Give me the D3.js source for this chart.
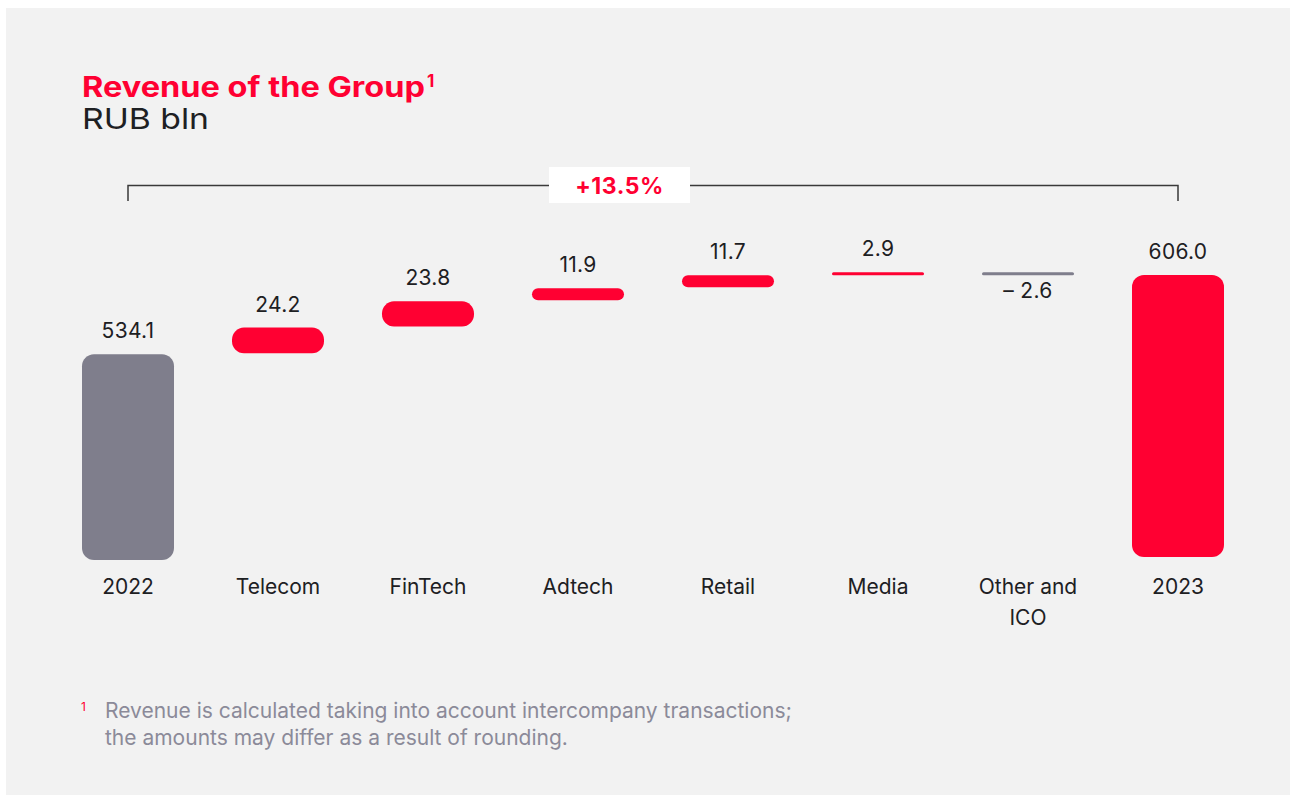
<!DOCTYPE html>
<html>
<head>
<meta charset="utf-8">
<script src="https://cdn.jsdelivr.net/npm/d3@7"></script>
<style>
  html, body { margin: 0; padding: 0; background: #ffffff; }
  svg { display: block; }
  text { font-family: Inter, "Noto Sans", sans-serif; }
</style>
</head>
<body>
<div id="chart"></div>
<script>
// chart data
const categories = ["2022", "Telecom", "FinTech", "Adtech", "Retail", "Media", "Other and\nICO", "2023"];
const values = [534.1, 24.2, 23.8, 11.9, 11.7, 2.9, -2.6, 606.0];
const kinds = ["total", "delta", "delta", "delta", "delta", "delta", "delta", "total"];
const growthLabel = "+13.5%";
const titleText = "Revenue of the Group";
const unitText = "RUB bln";
const footnoteLines = [
    "Revenue is calculated taking into account intercompany transactions;",
    "the amounts may differ as a result of rounding."
];

const RED = "#ff0032";
const GRAY = "#7f7e8c";
const INK = "#1d2023";

const width = 1290, height = 799;

const svg = d3.select("#chart").append("svg")
    .attr("width", width)
    .attr("height", height);

// panel background
svg.append("rect")
    .attr("x", 6).attr("y", 8)
    .attr("width", width - 6).attr("height", 787)
    .attr("fill", "#f2f2f2");

// running totals for the waterfall
let running = 0;
const bars = categories.map(function(c, i) {
    let start, end;
    if (kinds[i] === "total") {
        start = null;
        end = values[i];
        running = values[i];
    } else {
        start = running;
        end = running + values[i];
        running = end;
    }
    return {category: c, value: values[i], kind: kinds[i], start: start, end: end, index: i};
});

const x = d3.scalePoint().domain(categories).range([128, 1178]);
const y = d3.scaleLinear().domain([349, 606]).range([558.5, 275]);
const barWidth = 92;

const barColor = function(d) {
    if (d.index === 0) return GRAY;
    if (d.value < 0) return GRAY;
    return RED;
};

const g = svg.append("g");

g.selectAll("rect.bar")
    .data(bars)
    .enter().append("rect")
    .attr("class", "bar")
    .attr("x", d => x(d.category) - barWidth / 2)
    .attr("y", function(d) {
        if (d.kind === "total") return y(d.end);
        return y(Math.max(d.start, d.end));
    })
    .attr("width", barWidth)
    .attr("height", function(d) {
        if (d.kind === "total") return y.range()[0] - y(d.end) - (d.index === 7 ? 1.5 : -1.5);
        return Math.max(3, Math.abs(y(d.start) - y(d.end)) - 1);
    })
    .attr("rx", function(d) {
        const h = d.kind === "total" ? 200 : Math.abs(y(d.start) - y(d.end)) - 1;
        return Math.min(12, Math.max(1.5, h / 2));
    })
    .attr("fill", barColor);

// value labels
const fmt = function(d) {
    const s = Math.abs(d.value).toFixed(1);
    return d.value < 0 ? "\u2013 " + s : s;
};

g.selectAll("text.value")
    .data(bars)
    .enter().append("text")
    .attr("class", "value")
    .attr("x", d => x(d.category))
    .attr("y", function(d) {
        if (d.value < 0) return y(d.end) + 23;
        const top = d.kind === "total" ? y(d.end) : y(Math.max(d.start, d.end));
        return top - 16;
    })
    .attr("text-anchor", "middle")
    .attr("font-size", 21)
    .attr("letter-spacing", 0.3)
    .attr("fill", INK)
    .text(fmt);

// category labels
g.selectAll("text.cat")
    .data(bars)
    .enter().append("text")
    .attr("class", "cat")
    .attr("x", d => x(d.category))
    .attr("y", 594)
    .attr("text-anchor", "middle")
    .attr("font-size", 21)
    .attr("fill", INK)
    .each(function(d) {
        const lines = d.category.split("\n");
        d3.select(this).selectAll("tspan")
            .data(lines)
            .enter().append("tspan")
            .attr("x", x(d.category))
            .attr("dy", (l, i) => i === 0 ? 0 : 31)
            .text(l => l);
    });

// growth bracket
const bx0 = x(categories[0]), bx1 = x(categories[categories.length - 1]);
const by = 185.5;
svg.append("path")
    .attr("d", "M" + bx0 + "," + 201 + "V" + by + "H" + bx1 + "V" + 201)
    .attr("fill", "none")
    .attr("stroke", "#3a3a3a")
    .attr("stroke-width", 1.5);

svg.append("rect")
    .attr("x", 549).attr("y", 167)
    .attr("width", 141).attr("height", 36)
    .attr("fill", "#ffffff");

svg.append("text")
    .attr("x", 619.5).attr("y", 194)
    .attr("text-anchor", "middle")
    .attr("font-size", 23)
    .attr("font-weight", 700)
    .attr("letter-spacing", 0.5)
    .attr("fill", RED)
    .text(growthLabel);

// title
const title = svg.append("text")
    .attr("x", 82).attr("y", 97)
    .attr("font-size", 28)
    .attr("font-weight", 700)
    .attr("fill", RED);
title.append("tspan")
    .attr("textLength", 343)
    .attr("lengthAdjust", "spacingAndGlyphs")
    .text(titleText);
title.append("tspan")
    .attr("dy", -10)
    .attr("font-size", 17)
    .attr("dx", 2)
    .text("1");

svg.append("text")
    .attr("x", 82).attr("y", 129)
    .attr("font-size", 29)
    .attr("textLength", 127)
    .attr("lengthAdjust", "spacingAndGlyphs")
    .attr("fill", INK)
    .text(unitText);

// footnote
svg.append("text")
    .attr("x", 81).attr("y", 711)
    .attr("font-size", 12)
    .attr("fill", RED)
    .text("1");

svg.selectAll("text.foot")
    .data(footnoteLines)
    .enter().append("text")
    .attr("class", "foot")
    .attr("x", 105)
    .attr("y", (d, i) => 718 + i * 27)
    .attr("font-family", "Roboto, sans-serif")
    .attr("font-size", 21)
    .attr("fill", "#8b8a99")
    .text(d => d);
</script>
</body>
</html>
